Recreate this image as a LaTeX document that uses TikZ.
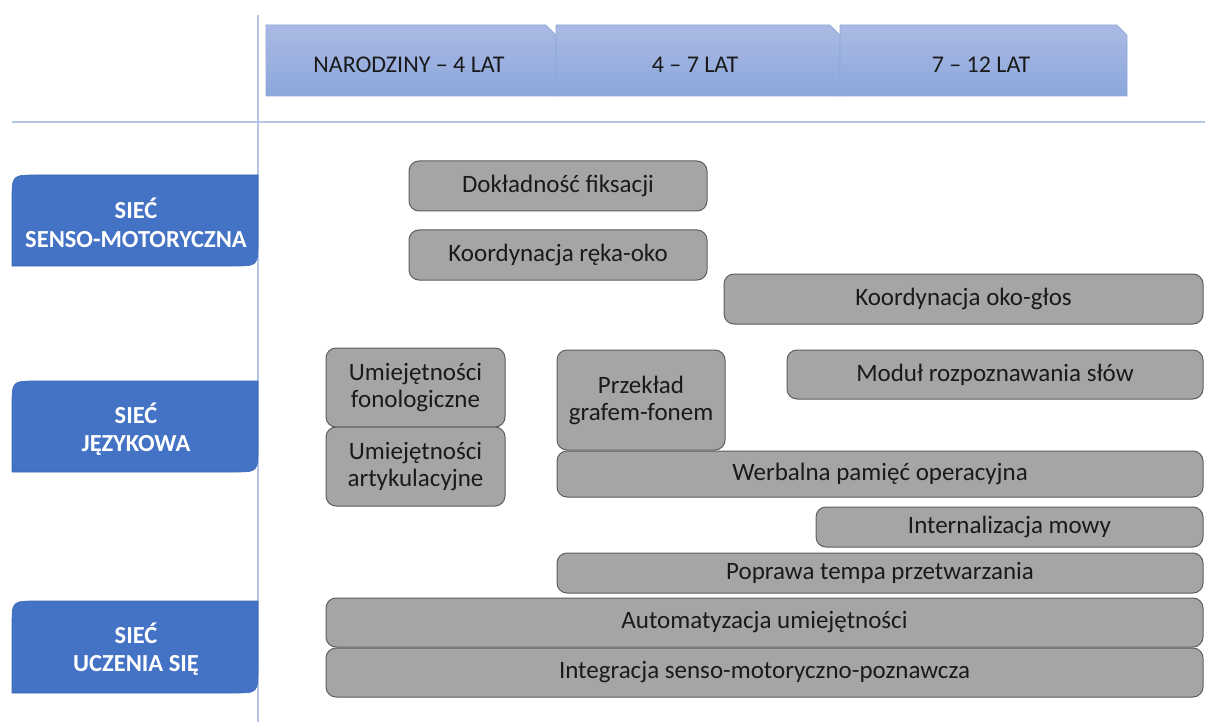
\documentclass[tikz,border=0pt]{standalone}
\usepackage{fontspec}
\setmainfont{Carlito}
\definecolor{gfill}{HTML}{A5A5A5}
\definecolor{gdraw}{HTML}{5E5E5E}
\definecolor{bfill}{HTML}{4472C4}
\definecolor{bdraw}{HTML}{3B67B5}
\definecolor{htop}{HTML}{ABBAE3}
\definecolor{hbot}{HTML}{8BA7DC}
\definecolor{hline}{HTML}{8FA8D8}
\definecolor{rule}{HTML}{B4C5EA}
\definecolor{txt}{HTML}{1A1A1A}
\tikzset{
  gbox/.style={draw=gdraw, fill=gfill, line width=1pt, rounded corners=10pt, inner sep=0pt,
    align=center, text=txt, font=\fontsize{25}{27}\selectfont},
  htab/.style={top color=htop, bottom color=hbot, draw=hline, line width=0.6pt},
  htext/.style={text=txt, font=\fontsize{24}{28}\selectfont, inner sep=0pt},
  ltab/.style={fill=bfill, draw=bdraw, line width=0.6pt},
  ltext/.style={text=white, font=\bfseries\fontsize{24.5}{28.5}\selectfont, align=center, inner sep=0pt},
  rulel/.style={draw=rule, line width=1.3pt}
}
\begin{document}
\begin{tikzpicture}[x=1pt,y=-1pt]
\useasboundingbox (0,0) rectangle (1205,722);
% rules
\coordinate (vtop) at (258,15);
\coordinate (vbot) at (258,722);
\coordinate (hl) at (12,122);
\coordinate (hr) at (1205,122);
\draw[rulel] (vtop) -- (vbot);
\draw[rulel] (hl) -- (hr);
% header tabs
\path[htab] (266,25) -- (546,25) -- (556,35) -- (556,96) -- (266,96) -- cycle;
\path[htab] (556,25) -- (830,25) -- (840,35) -- (840,96) -- (556,96) -- cycle;
\path[htab] (840,25) -- (1117,25) -- (1127,35) -- (1127,96) -- (840,96) -- cycle;
\node[htext] (t1) at (409,65) {NARODZINY – 4 LAT};
\node[htext] (t2) at (695,65) {4 – 7 LAT};
\node[htext] (t3) at (981,65) {7 – 12 LAT};
% left tabs
\path[ltab] (12,266) -- (12,200) .. controls (12,175) .. (37,175) -- (258,175) -- (258,241) .. controls (258,266) .. (233,266) -- cycle;
\node[ltext] (n1) at (136,223) {SIEĆ\\SENSO-MOTORYCZNA};
\path[ltab] (12,472) -- (12,406) .. controls (12,381) .. (37,381) -- (258,381) -- (258,447) .. controls (258,472) .. (233,472) -- cycle;
\node[ltext] (n2) at (136,429) {SIEĆ\\JĘZYKOWA};
\path[ltab] (12,693) -- (12,626) .. controls (12,601) .. (37,601) -- (258,601) -- (258,668) .. controls (258,693) .. (233,693) -- cycle;
\node[ltext] (n3) at (136,649) {SIEĆ\\UCZENIA SIĘ};
% gray boxes
\node[gbox, minimum width=298pt, minimum height=50pt] (fix) at (558,186) {Dokładność fiksacji};
\node[gbox, minimum width=298pt, minimum height=50pt] (reka) at (558,255) {Koordynacja ręka-oko};
\node[gbox, minimum width=479pt, minimum height=50pt] (glos) at (963.5,299) {Koordynacja oko-głos};
\node[gbox, minimum width=179pt, minimum height=79pt] (fon) at (415.5,387.5) {Umiejętności\\fonologiczne};
\node[gbox, minimum width=179pt, minimum height=79pt] (art) at (415.5,466.5) {Umiejętności\\artykulacyjne};
\node[gbox, minimum width=168pt, minimum height=100pt] (graf) at (641,400) {Przekład\\grafem-fonem};
\node[gbox, minimum width=416pt, minimum height=49pt] (modul) at (995,374.5) {Moduł rozpoznawania słów};
\node[gbox, minimum width=646pt, minimum height=46pt] (werb) at (880,474) {Werbalna pamięć operacyjna};
\node[gbox, minimum width=387pt, minimum height=40pt] (intern) at (1009.5,527) {Internalizacja mowy};
\node[gbox, minimum width=646pt, minimum height=40pt] (tempo) at (880,573) {Poprawa tempa przetwarzania};
\node[gbox, minimum width=877pt, minimum height=49pt] (auto) at (764.5,622.5) {Automatyzacja umiejętności};
\node[gbox, minimum width=877pt, minimum height=49pt] (integ) at (764.5,672.5) {Integracja senso-motoryczno-poznawcza};
\end{tikzpicture}
\end{document}
